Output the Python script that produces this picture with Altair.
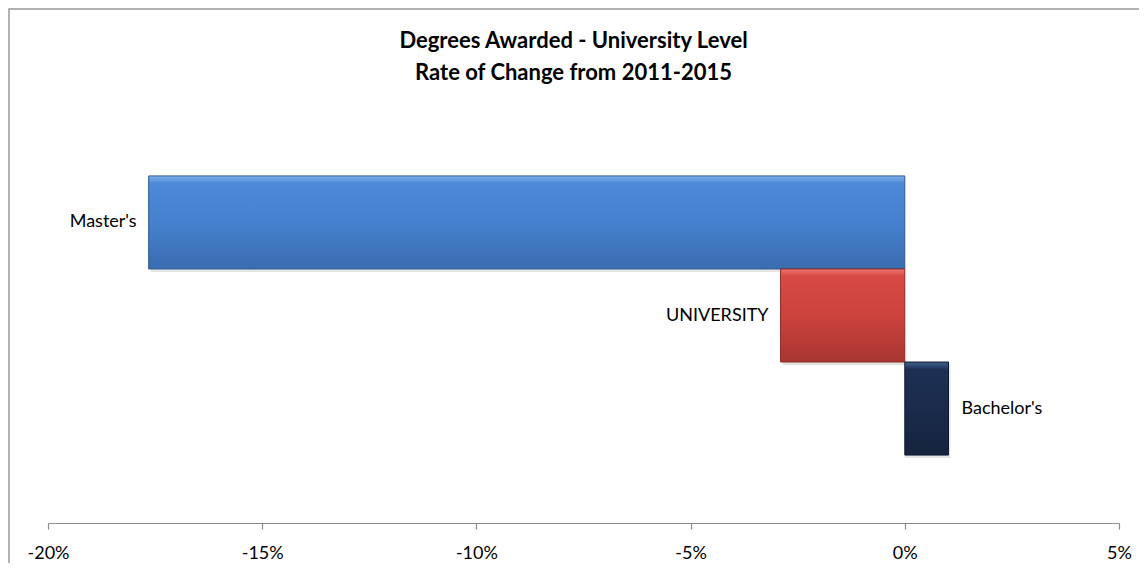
import altair as alt
import pandas as pd

categories = ["Master's", "UNIVERSITY", "Bachelor's"]
values = [-0.1765, -0.029, 0.0102]
tick_values = [-0.20, -0.15, -0.10, -0.05, 0.0, 0.05]

df = pd.DataFrame({"category": categories, "value": values})

W, H = 1071, 415
FONT = "Lato"

x_enc = alt.X("value:Q",
              scale=alt.Scale(domain=[-0.20, 0.05], nice=False, zero=False),
              axis=alt.Axis(values=tick_values, grid=False, labelFlush=False,
                            labelExpr="round(datum.value * 100) + '%'",
                            domainColor="#8c8c8c", tickColor="#8c8c8c",
                            tickSize=6, labelFontSize=18, labelFont=FONT,
                            labelColor="#000000", labelPadding=15, title=None,
                            domainWidth=1.2, tickWidth=1.2))
y_enc = alt.Y("category:N", sort=categories,
              scale=alt.Scale(paddingInner=0, paddingOuter=0.73),
              axis=None)

def grad(c0, c1, c2, c3):
    return alt.Gradient(gradient="linear", x1=0, y1=0, x2=0, y2=1,
                        stops=[alt.GradientStop(color=c0, offset=0),
                               alt.GradientStop(color=c1, offset=0.08),
                               alt.GradientStop(color=c2, offset=0.5),
                               alt.GradientStop(color=c3, offset=1)])

fills = {
    "Master's": (grad("#7fb2ec", "#4c89d6", "#4581cd", "#3a6cb0"), "#2f5a94"),
    "UNIVERSITY": (grad("#ee7470", "#d84a44", "#cc423d", "#a83531"), "#8e2c28"),
    "Bachelor's": (grad("#41608c", "#1d3054", "#1a2b4b", "#15233e"), "#0f1a30"),
}

base = alt.Chart(df)

frame = base.transform_filter(alt.datum.category == "Master's").mark_rect(
    fill=None, stroke="#9a9a9a", strokeWidth=1.5
).encode(
    x=alt.value(-39), x2=alt.value(1120),
    y=alt.value(-99), y2=alt.value(470)
)

shadow = base.mark_bar(color="#000000", opacity=0.10, xOffset=2, yOffset=3).encode(
    x=alt.X("value:Q", scale=alt.Scale(domain=[-0.20, 0.05], nice=False, zero=False)),
    x2=alt.datum(0), y=y_enc
)

bars = []
for cat in categories:
    g, s = fills[cat]
    bars.append(
        base.transform_filter(alt.datum.category == cat)
        .mark_bar(fill=g, stroke=s, strokeWidth=1)
        .encode(x=x_enc, x2=alt.datum(0), y=y_enc)
    )

labels_neg = base.transform_filter(alt.datum.value < 0).mark_text(
    align="right", baseline="middle", dx=-12, fontSize=18, font=FONT, color="#000000"
).encode(x="value:Q", y=y_enc, text="category:N")

labels_pos = base.transform_filter(alt.datum.value >= 0).mark_text(
    align="left", baseline="middle", dx=13, fontSize=18, font=FONT, color="#000000"
).encode(x="value:Q", y=y_enc, text="category:N")

chart = alt.layer(frame, shadow, *bars, labels_neg, labels_pos).properties(
    width=W, height=H,
    autosize=alt.AutoSizeParams(type="none"),
    padding={"left": 40, "top": 100, "right": 20, "bottom": 40},
    title=alt.Title(["Degrees Awarded - University Level", "Rate of Change from 2011-2015"],
                    font=FONT, fontSize=22, fontWeight="bold", color="#000000",
                    anchor="middle", dx=-10, offset=0, dy=77, lineHeight=32),
).configure(background="#ffffff").configure_view(stroke=None)

chart.save("out.html", embed_options={"renderer": "svg", "actions": False})
